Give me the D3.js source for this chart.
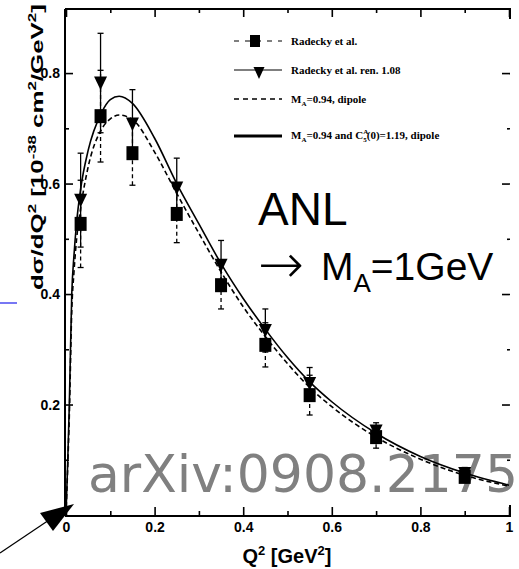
<!DOCTYPE html>
<html>
<head>
<meta charset="utf-8">
<script src="https://cdn.jsdelivr.net/npm/d3@7"></script>
<style>
  html, body { margin: 0; padding: 0; background: #fff; }
  svg { display: block; }
</style>
</head>
<body>
<svg id="chart" width="519" height="569"></svg>
<script>
// Q^2 bins of the measured points [GeV^2]
const q2 = [0.033, 0.078, 0.15, 0.25, 0.35, 0.45, 0.55, 0.70, 0.90];
// Radecky et al. dsigma/dQ^2 [1e-38 cm^2/GeV^2] and errors
const radecky    = [0.527, 0.722, 0.655, 0.545, 0.416, 0.308, 0.217, 0.141, 0.069];
const radeckyErr = [0.079, 0.083, 0.058, 0.052, 0.043, 0.040, 0.036, 0.020, 0.010];
// Radecky et al. renormalised by 1.08
const renorm     = [0.570, 0.782, 0.708, 0.592, 0.452, 0.334, 0.238, 0.152, 0.075];
const renormErr  = [0.085, 0.090, 0.062, 0.054, 0.045, 0.039, 0.029, 0.015, 0.011];

// Model curves
const curveQ2     = [0, 0.004, 0.0075, 0.013, 0.018, 0.024, 0.033, 0.05, 0.08, 0.10, 0.12, 0.15, 0.20, 0.25, 0.30, 0.35, 0.40, 0.45, 0.50, 0.55, 0.60, 0.70, 0.80, 0.90, 1.00];
const fullModel   = [0, 0.10, 0.20, 0.40, 0.47, 0.53, 0.59, 0.66, 0.728, 0.752, 0.758, 0.745, 0.682, 0.600, 0.527, 0.455, 0.392, 0.336, 0.285, 0.241, 0.205, 0.148, 0.106, 0.076, 0.054];
const dipoleModel = [0, 0.09, 0.18, 0.37, 0.44, 0.50, 0.555, 0.63, 0.698, 0.717, 0.724, 0.716, 0.657, 0.582, 0.510, 0.440, 0.377, 0.323, 0.274, 0.231, 0.196, 0.141, 0.101, 0.072, 0.052];

// Axis ticks
const xMajor = [0, 0.2, 0.4, 0.6, 0.8, 1];
const xMinor = [0.1, 0.3, 0.5, 0.7, 0.9];
const yMajor = [0.2, 0.4, 0.6, 0.8];
const yMinor = [0.1, 0.3, 0.5, 0.7];

const svg = d3.select("#chart");
const x = d3.scaleLinear().domain([0, 1]).range([66, 509]);
const y = d3.scaleLinear().domain([0, 0.916]).range([515, 9]);

const edge = { left: 65, right: 510, top: 9, bottom: 516 };
const axisFont = "'Liberation Sans', Arial, Helvetica, sans-serif";

// Watermark behind the plot
svg.append("text")
  .attr("x", 88).attr("y", 492)
  .attr("font-family", "'DejaVu Sans', sans-serif")
  .attr("font-size", 52)
  .attr("fill", "#808080")
  .text("arXiv:0908.2175");

// Frame
const frame = svg.append("g").attr("stroke", "#000").attr("stroke-width", 2).attr("fill", "none");
frame.append("line").attr("x1", edge.left).attr("x2", edge.right + 1).attr("y1", edge.top).attr("y2", edge.top);
frame.append("line").attr("x1", edge.left).attr("x2", edge.left).attr("y1", edge.top).attr("y2", edge.bottom);
frame.append("line").attr("x1", edge.left).attr("x2", edge.right + 1).attr("y1", edge.bottom).attr("y2", edge.bottom);
frame.append("line").attr("x1", edge.right).attr("x2", edge.right).attr("y1", edge.top).attr("y2", edge.top + 10);
frame.append("line").attr("x1", edge.right).attr("x2", edge.right).attr("y1", edge.bottom - 11).attr("y2", edge.bottom);

function styleAxis(g) {
  g.select(".domain").remove();
  g.selectAll(".tick line").attr("stroke", "#000").attr("stroke-width", 1.6);
  g.selectAll(".tick text")
    .attr("font-family", axisFont).attr("font-weight", "bold")
    .attr("font-size", 14).attr("fill", "#000");
}

// Bottom axis
svg.append("g").attr("transform", `translate(0,${edge.bottom})`)
  .call(d3.axisBottom(x).tickValues(xMajor).tickSize(-9).tickPadding(6)
        .tickFormat(d => d === 0 || d === 1 ? d3.format("d")(d) : d3.format(".1f")(d)))
  .call(styleAxis);
svg.append("g").attr("transform", `translate(0,${edge.bottom})`)
  .call(d3.axisBottom(x).tickValues(xMinor).tickSize(-5).tickFormat(""))
  .call(styleAxis);
// Top axis
svg.append("g").attr("transform", `translate(0,${edge.top})`)
  .call(d3.axisTop(x).tickValues(xMajor).tickSize(-8).tickFormat(""))
  .call(styleAxis);
svg.append("g").attr("transform", `translate(0,${edge.top})`)
  .call(d3.axisTop(x).tickValues(xMinor).tickSize(-4).tickFormat(""))
  .call(styleAxis);
// Left axis
svg.append("g").attr("transform", `translate(${edge.left},0)`)
  .call(d3.axisLeft(y).tickValues(yMajor).tickSize(-8).tickPadding(5).tickFormat(d3.format(".1f")))
  .call(styleAxis);
svg.append("g").attr("transform", `translate(${edge.left},0)`)
  .call(d3.axisLeft(y).tickValues(yMinor).tickSize(-4).tickFormat(""))
  .call(styleAxis);
// Right axis
svg.append("g").attr("transform", `translate(${edge.right},0)`)
  .call(d3.axisRight(y).tickValues(yMajor).tickSize(-8).tickFormat(""))
  .call(styleAxis);
svg.append("g").attr("transform", `translate(${edge.right},0)`)
  .call(d3.axisRight(y).tickValues(yMinor).tickSize(-3).tickFormat(""))
  .call(styleAxis);

// Axis titles
const xTitle = svg.append("text")
  .attr("x", 287).attr("y", 563)
  .attr("text-anchor", "middle")
  .attr("font-family", axisFont).attr("font-weight", "bold").attr("font-size", 20);
xTitle.append("tspan").text("Q");
xTitle.append("tspan").attr("dy", -8).attr("font-size", 13).text("2");
xTitle.append("tspan").attr("dy", 8).text(" [GeV");
xTitle.append("tspan").attr("dy", -8).attr("font-size", 13).text("2");
xTitle.append("tspan").attr("dy", 8).text("]");

const yTitle = svg.append("text")
  .attr("font-family", axisFont).attr("font-weight", "bold").attr("font-size", 17);
const yParts = [["dσ/dQ", 0], ["2", 1], [" [10", 0], ["-38", 1], [" cm", 0], ["2", 1], ["/GeV", 0], ["2", 1], ["]", 0]];
let prevSup = 0;
yParts.forEach(([t, sup]) => {
  yTitle.append("tspan")
    .attr("dy", (sup - prevSup) * -7)
    .attr("font-size", sup ? 11 : 17)
    .text(t);
  prevSup = sup;
});
const yLen = yTitle.node().getComputedTextLength();
yTitle.attr("transform", `translate(43,290) rotate(-90) scale(${286 / yLen},1)`);

// Model curves
const line = d3.line().curve(d3.curveMonotoneX);
svg.append("path")
  .attr("d", line(curveQ2.map((q, i) => [x(q), y(dipoleModel[i])])))
  .attr("fill", "none").attr("stroke", "#000").attr("stroke-width", 1.6)
  .attr("stroke-dasharray", "5,3");
svg.append("path")
  .attr("d", line(curveQ2.map((q, i) => [x(q), y(fullModel[i])])))
  .attr("fill", "none").attr("stroke", "#000").attr("stroke-width", 1.6);

// Error bars
function errorBars(vals, errs, dashed) {
  const g = svg.append("g").attr("stroke", "#000").attr("stroke-width", 1.3);
  q2.forEach((q, i) => {
    const cx = x(q);
    g.append("line").attr("x1", cx).attr("x2", cx)
      .attr("y1", y(vals[i] - errs[i])).attr("y2", y(vals[i] + errs[i]))
      .attr("stroke-dasharray", dashed ? "4,3" : null);
    [vals[i] - errs[i], vals[i] + errs[i]].forEach(v => {
      g.append("line").attr("x1", cx - 3).attr("x2", cx + 3)
        .attr("y1", y(v)).attr("y2", y(v));
    });
  });
}
errorBars(radecky, radeckyErr, true);

// Squares
svg.append("g").selectAll("rect").data(q2).join("rect")
  .attr("x", d => x(d) - 6).attr("y", (d, i) => y(radecky[i]) - 7)
  .attr("width", 12).attr("height", 14).attr("fill", "#000");

errorBars(renorm, renormErr, false);

// Downward triangles
const tri = "M-6.5,-6.5 L6.5,-6.5 L0,7 Z";
svg.append("g").selectAll("path").data(q2).join("path")
  .attr("d", tri)
  .attr("transform", (d, i) => `translate(${x(d)},${y(renorm[i])})`)
  .attr("fill", "#000");

// Legend
const legFont = "'Liberation Serif', 'Times New Roman', serif";
const leg = svg.append("g");
const rows = [
  { ly: 41, ty: 45, dash: "5,6", w: 1.2, mark: "sq" },
  { ly: 70, ty: 74, dash: null, w: 1.2, mark: "tri" },
  { ly: 99, ty: 103, dash: "5,4", w: 1.4, mark: null },
  { ly: 136, ty: 139, dash: null, w: 2.8, mark: null }
];
rows.forEach(r => {
  leg.append("line").attr("x1", 234).attr("x2", 282).attr("y1", r.ly).attr("y2", r.ly)
    .attr("stroke", "#000").attr("stroke-width", r.w).attr("stroke-dasharray", r.dash);
  if (r.mark === "sq") {
    leg.append("rect").attr("x", 250).attr("y", r.ly - 6).attr("width", 10).attr("height", 12).attr("fill", "#000");
  } else if (r.mark === "tri") {
    leg.append("path").attr("d", "M-5.5,-3 L5.5,-3 L0,9 Z")
      .attr("transform", `translate(259,${r.ly})`).attr("fill", "#000");
  }
});
function legText(yy) {
  return leg.append("text").attr("x", 291).attr("y", yy)
    .attr("font-family", legFont).attr("font-weight", "bold").attr("font-size", 11);
}
legText(rows[0].ty).text("Radecky et al.");
legText(rows[1].ty).text("Radecky et al. ren. 1.08");
const t3 = legText(rows[2].ty);
t3.append("tspan").text("M");
t3.append("tspan").attr("dy", 3).attr("font-size", 7).text("A");
t3.append("tspan").attr("dy", -3).text("=0.94, dipole");
const t4 = legText(rows[3].ty);
t4.append("tspan").text("M");
t4.append("tspan").attr("dy", 3).attr("font-size", 7).text("A");
t4.append("tspan").attr("dy", -3).text("=0.94 and C");
t4.append("tspan").attr("dy", -5).attr("font-size", 7).text("A");
t4.append("tspan").attr("dx", -5).attr("dy", 8).attr("font-size", 7).text("5");
t4.append("tspan").attr("dy", -3).text("(0)=1.19, dipole");

// Annotation
const annFont = "'Liberation Sans', Arial, sans-serif";
svg.append("text").attr("x", 258).attr("y", 225)
  .attr("font-family", annFont).attr("font-size", 46).text("ANL");
svg.append("text").attr("x", 258).attr("y", 283)
  .attr("font-family", "'DejaVu Sans', sans-serif").attr("font-size", 55)
  .attr("font-weight", 200)
  .text("→");
const ma = svg.append("text").attr("x", 321).attr("y", 280)
  .attr("font-family", annFont).attr("font-size", 39);
ma.append("tspan").text("M");
ma.append("tspan").attr("dy", 12).attr("font-size", 26).text("A");
ma.append("tspan").attr("dy", -12).text("=1GeV");

// Blue marker line at the left edge
svg.append("line").attr("x1", 0).attr("x2", 17).attr("y1", 303).attr("y2", 303)
  .attr("stroke", "#4a4af0").attr("stroke-width", 1.5);

// Arrow pointing at the origin
svg.append("line").attr("x1", 0).attr("y1", 553).attr("x2", 55).attr("y2", 516)
  .attr("stroke", "#000").attr("stroke-width", 1.2);
svg.append("path").attr("d", "M74,504 L40,513 L53,531 Z").attr("fill", "#000");
</script>
</body>
</html>
